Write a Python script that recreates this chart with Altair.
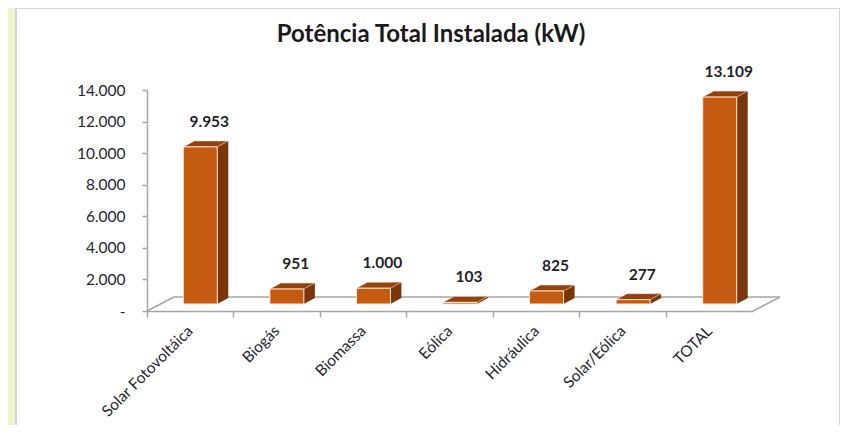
import altair as alt
import pandas as pd

categories = ["Solar Fotovoltáica", "Biogás", "Biomassa", "Eólica", "Hidráulica", "Solar/Eólica", "TOTAL"]
values = [9953, 951, 1000, 103, 825, 277, 13109]
y_ticks = [0, 2000, 4000, 6000, 8000, 10000, 12000, 14000]
title_text = "Potência Total Instalada (kW)"

df = pd.DataFrame({"cat": categories, "value": values})

FONT = "Lato"
FRONT = "#c55a11"
SIDE = "#7a360a"
TOP = "#93420e"
GRAY = "#a6a6a6"

W, H = 606, 221

y_scale = alt.Scale(domain=[0, 14000], nice=False, zero=True)
x_scale = alt.Scale(paddingInner=0, paddingOuter=0)

x_axis = alt.Axis(title=None, labelAngle=-45, labelFont=FONT, labelFontSize=15.5,
                  labelColor="#262630", domainColor=GRAY, domainWidth=1.5,
                  tickColor=GRAY, tickSize=6, tickWidth=1.5, bandPosition=0,
                  labelPadding=11, labelAlign="right",
                  labelBaseline="middle", zindex=1)
y_axis = alt.Axis(title=None, values=y_ticks, grid=False, labelFont=FONT,
                  labelFontSize=15.5, labelColor="#262630", domainColor=GRAY,
                  domainWidth=1.5, tickColor=GRAY, tickSize=5, tickWidth=1.5,
                  labelPadding=17, zindex=1,
                  labelExpr="datum.value == 0 ? '-' : replace(format(datum.value, ','), ',', '.')")

def xenc():
    return alt.X("cat:N", sort=categories, scale=x_scale, axis=x_axis)

def yenc(field):
    return alt.Y(field, scale=y_scale, axis=y_axis)

base = alt.Chart(df).transform_calculate(
    zero="0",
    label="replace(format(datum.value, ','), ',', '.')"
)
one = base.transform_filter("datum.cat == 'TOTAL'")

# white panel behind the chart
panel = one.mark_rect(fill="white", stroke="#d4d4d4", strokeWidth=2).encode(
    x=alt.value(-131), x2=alt.value(693), y=alt.value(-82), y2=alt.value(340)
)

title = one.mark_text(font=FONT, fontSize=24, fontWeight="bold", color="#1a1a1a",
                      align="center", baseline="middle").encode(
    x=alt.value(W / 2 - 19), y=alt.value(-55), text=alt.value(title_text)
)

# 3D floor lines
floor_back = one.mark_rule(color=GRAY, strokeWidth=1.5, yOffset=-14, y2Offset=-14).encode(
    x=alt.value(27), x2=alt.value(W + 27), y=yenc("zero:Q"), y2="zero:Q"
)
floor_left = one.mark_rule(color=GRAY, strokeWidth=1.5, y2Offset=-14).encode(
    x=alt.value(0), x2=alt.value(27), y=yenc("zero:Q"), y2="zero:Q"
)
floor_right = one.mark_rule(color=GRAY, strokeWidth=1.5, y2Offset=-14).encode(
    x=alt.value(W), x2=alt.value(W + 27), y=yenc("zero:Q"), y2="zero:Q"
)

side = base.mark_bar(width=11, color=SIDE, xOffset=32.5, yOffset=-13, y2Offset=-13).encode(
    x=xenc(), y=yenc("value:Q"), y2="zero:Q",
)

tri_shape = "M -1 0.545 L 1 -0.545 L -1 -0.545 Z"
bottom_tri = base.mark_point(shape=tri_shape, size=121, filled=True, color=SIDE, opacity=1,
                             xOffset=32.5, yOffset=-10).encode(
    x=xenc(), y=yenc("zero:Q"),
)

top_shape = "M -1 0.1333 L 0.5111 0.1333 L 1 -0.1333 L -0.5111 -0.1333 Z"
top_face = base.mark_point(shape=top_shape, size=2025, filled=True, color=TOP, opacity=1,
                           stroke="#fbe3cf", strokeWidth=0.6,
                           xOffset=15.5, yOffset=-10).encode(
    x=xenc(), y=yenc("value:Q"),
)

front = base.mark_bar(width=34, color=FRONT, stroke="#fde9d9", strokeWidth=1,
                      xOffset=10, yOffset=-7, y2Offset=-7).encode(
    x=xenc(), y=yenc("value:Q"), y2="zero:Q",
)

text = base.mark_text(font=FONT, fontSize=15.5, fontWeight="bold", color="#1f1f2a",
                      dx=19, dy=-32, baseline="middle").encode(
    x=xenc(), y=yenc("value:Q"), text="label:N",
)

chart = alt.layer(panel, title, floor_back, floor_left, floor_right, side, bottom_tri,
                  top_face, front, text).properties(
    width=W, height=H,
    autosize=alt.AutoSizeParams(type="none"),
    padding={"left": 139, "top": 82, "right": 87, "bottom": 114},
    background="#eef5c8",
).configure_view(stroke=None)

chart.save("out.html", embed_options={"renderer": "svg", "actions": False})
